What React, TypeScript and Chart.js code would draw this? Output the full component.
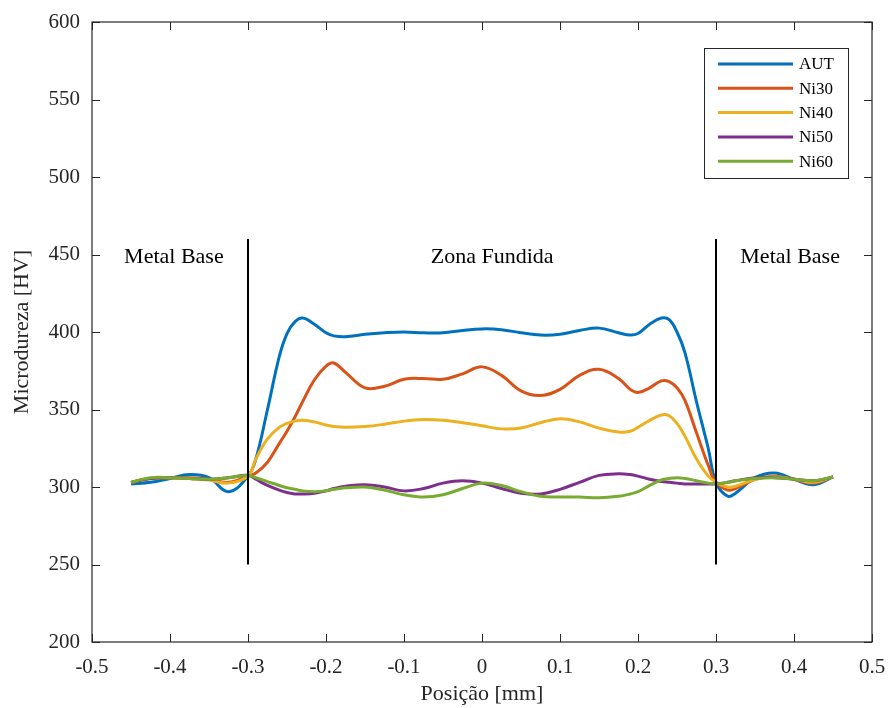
import React, { useEffect, useRef } from 'react';
import { Chart, registerables } from 'chart.js';

Chart.register(...registerables);

// Position along the weld (mm)
const POSITIONS = [
  -0.45, -0.425, -0.4, -0.375, -0.35, -0.325, -0.3, -0.29, -0.275, -0.26, -0.25, -0.24,
  -0.23, -0.215, -0.2, -0.19, -0.175, -0.15, -0.125, -0.1, -0.075, -0.05, -0.025, 0,
  0.025, 0.05, 0.075, 0.1, 0.125, 0.15, 0.175, 0.19, 0.2, 0.215, 0.23, 0.24,
  0.25, 0.26, 0.275, 0.29, 0.3, 0.315, 0.325, 0.35, 0.375, 0.4, 0.425, 0.45,
];

const AUT = [
  302, 303, 305.5, 308, 306, 297, 307, 318, 350, 384, 399, 406.5,
  409, 405, 399.5, 397.5, 397, 398.5, 399.5, 400, 399.5, 399.5, 401, 402,
  401.5, 399.5, 398, 398.5, 401, 402.5, 399.5, 398, 399, 405, 409, 408,
  400, 387, 355, 325, 303, 294, 296, 306, 309, 305, 301.5, 306.5,
];

const NI30 = [
  303, 305.5, 306, 306, 305, 303, 307, 309, 316, 328, 336, 345,
  355, 369, 378, 380, 374, 364, 365, 369.5, 370, 369.5, 373, 377.5,
  372, 362, 359, 363, 372, 376, 370, 363, 361, 364, 368.5, 368,
  364, 356, 335, 314, 303, 298, 299, 305, 307, 305, 302.5, 306.5,
];

const NI40 = [
  303, 305.5, 306, 305.5, 304.5, 302.5, 307, 318, 331, 338.5, 341, 342.5,
  343, 342, 340, 339, 338.5, 339, 340.5, 342.5, 343.5, 343, 341.5, 339.5,
  337.5, 338, 341.5, 344, 342, 338, 335.5, 336, 338.5, 343, 346.5, 346,
  341, 333, 318, 307, 303, 300, 300.5, 305, 306.5, 305, 303, 306.5,
];

const NI50 = [
  303, 305.5, 306, 305.5, 305, 306, 307.5, 305, 301, 298, 296.5, 295.5,
  295.5, 296, 297.5, 299, 300.5, 301.5, 300, 297.5, 299, 302.5, 304, 302.5,
  299, 296, 295.5, 298.5, 303, 307.5, 308.5, 308, 307, 305, 303.5, 303,
  302.5, 302, 302, 302, 302, 303, 304, 306, 306, 305, 304, 306.5,
];

const NI60 = [
  303, 306, 306, 305.5, 305, 306, 307.5, 306, 303.5, 301, 299.5, 298.5,
  297.5, 297, 297.5, 298.5, 299.5, 300, 298, 295, 293.5, 295, 299, 302.5,
  301, 297, 294, 293.5, 293.5, 293, 294, 295.5, 297, 301, 304.5, 305.5,
  306, 305.5, 304, 302.5, 302, 303, 304, 305.5, 306, 305, 304, 306.5,
];

const SERIES_NAMES = ['AUT', 'Ni30', 'Ni40', 'Ni50', 'Ni60'];
const SERIES_VALUES = [AUT, NI30, NI40, NI50, NI60];
const SERIES_COLORS = ['#0072BD', '#D95319', '#EDB120', '#7E2F8E', '#77AC30'];

// Zone boundaries (vertical black lines)
const BOUNDARY_X = [-0.3, 0.3];
const BOUNDARY_Y = [250, 460];

// Region labels
const REGION_LABELS = ['Metal Base', 'Zona Fundida', 'Metal Base'];
const REGION_X = [-0.395, 0.013, 0.395];
const REGION_Y = 448.5;

const X_MIN = -0.5;
const X_MAX = 0.5;
const Y_MIN = 200;
const Y_MAX = 600;

const FONT = '"Liberation Serif", "DejaVu Serif", serif';
const AXIS_COLOR = '#262626';

const framePlugin = {
  id: 'matlabFrame',
  afterDatasetsDraw(chart: any) {
    const { ctx, chartArea, scales } = chart;
    const { left, right, top, bottom } = chartArea;
    ctx.save();
    // region labels
    ctx.fillStyle = '#000';
    ctx.font = `22px ${FONT}`;
    ctx.textAlign = 'center';
    ctx.textBaseline = 'middle';
    REGION_LABELS.forEach((t, i) => {
      ctx.fillText(t, scales.x.getPixelForValue(REGION_X[i]), scales.y.getPixelForValue(REGION_Y));
    });
    // box
    ctx.strokeStyle = AXIS_COLOR;
    ctx.lineWidth = 1.2;
    ctx.strokeRect(left, top, right - left, bottom - top);
    // inward ticks
    const tl = 8;
    ctx.beginPath();
    scales.x.ticks.forEach((t: any) => {
      const px = Math.round(scales.x.getPixelForValue(t.value)) + 0.5;
      ctx.moveTo(px, bottom);
      ctx.lineTo(px, bottom - tl);
      ctx.moveTo(px, top);
      ctx.lineTo(px, top + tl);
    });
    scales.y.ticks.forEach((t: any) => {
      const py = Math.round(scales.y.getPixelForValue(t.value)) + 0.5;
      ctx.moveTo(left, py);
      ctx.lineTo(left + tl, py);
      ctx.moveTo(right, py);
      ctx.lineTo(right - tl, py);
    });
    ctx.lineWidth = 1;
    ctx.stroke();
    ctx.restore();
  },
  afterDraw(chart: any) {
    const { ctx, chartArea } = chart;
    const boxW = 144;
    const boxH = 130;
    const bx = chartArea.right - 24 - boxW;
    const by = chartArea.top + 26;
    ctx.save();
    ctx.fillStyle = '#fff';
    ctx.fillRect(bx, by, boxW, boxH);
    ctx.strokeStyle = AXIS_COLOR;
    ctx.lineWidth = 1;
    ctx.strokeRect(bx + 0.5, by + 0.5, boxW, boxH);
    ctx.font = `17px ${FONT}`;
    ctx.textAlign = 'left';
    ctx.textBaseline = 'middle';
    SERIES_NAMES.forEach((name, i) => {
      const y = by + 16 + i * 24.3;
      ctx.strokeStyle = SERIES_COLORS[i];
      ctx.lineWidth = 3;
      ctx.beginPath();
      ctx.moveTo(bx + 14, y);
      ctx.lineTo(bx + 89, y);
      ctx.stroke();
      ctx.fillStyle = '#000';
      ctx.fillText(name, bx + 95, y + 1);
    });
    ctx.restore();
  },
};

export default function App() {
  const canvasRef = useRef<HTMLCanvasElement | null>(null);

  useEffect(() => {
    const canvas = canvasRef.current;
    if (!canvas) return;

    const curveSets = SERIES_NAMES.map((name, i) => ({
      label: name,
      data: POSITIONS.map((x, j) => ({ x, y: SERIES_VALUES[i][j] })),
      borderColor: SERIES_COLORS[i],
      backgroundColor: SERIES_COLORS[i],
      borderWidth: 3,
      pointRadius: 0,
      tension: 0.4,
      fill: false,
      order: 10 - i,
    }));

    const boundarySets = BOUNDARY_X.map((bx) => ({
      label: '',
      data: BOUNDARY_Y.map((y) => ({ x: bx, y })),
      borderColor: '#000',
      backgroundColor: '#000',
      borderWidth: 2,
      pointRadius: 0,
      tension: 0,
      fill: false,
      order: 0,
    }));

    const chart = new Chart(canvas, {
      type: 'line',
      data: { datasets: [...curveSets, ...boundarySets] as any },
      plugins: [framePlugin],
      options: {
        animation: false,
        responsive: false,
        devicePixelRatio: 1,
        layout: { padding: { left: 0, right: 16, top: 22, bottom: 0 } },
        plugins: {
          legend: { display: false },
          tooltip: { enabled: false },
        },
        scales: {
          x: {
            type: 'linear',
            min: X_MIN,
            max: X_MAX,
            afterFit(scale: any) {
              scale.height = 66;
              scale.paddingLeft = 0;
              scale.paddingRight = 0;
            },
            ticks: {
              stepSize: 0.1,
              color: AXIS_COLOR,
              font: { family: FONT, size: 21 },
              padding: 13,
              maxRotation: 0,
              autoSkip: false,
              callback: (v: any) => String(Math.round(Number(v) * 10) / 10),
            },
            grid: { drawOnChartArea: false, drawTicks: false },
            border: { display: false },
            title: {
              display: true,
              text: 'Posição [mm]',
              color: AXIS_COLOR,
              font: { family: FONT, size: 22 },
              padding: { top: 0, bottom: 1 },
            },
          },
          y: {
            type: 'linear',
            min: Y_MIN,
            max: Y_MAX,
            afterFit(scale: any) {
              scale.width = 92;
              scale.paddingTop = 0;
              scale.paddingBottom = 0;
            },
            ticks: {
              stepSize: 50,
              color: AXIS_COLOR,
              font: { family: FONT, size: 21 },
              padding: 12,
            },
            grid: { drawOnChartArea: false, drawTicks: false },
            border: { display: false },
            title: {
              display: true,
              text: 'Microdureza [HV]',
              color: AXIS_COLOR,
              font: { family: FONT, size: 22 },
              padding: { top: 9, bottom: 0 },
            },
          },
        },
      },
    });

    return () => chart.destroy();
  }, []);

  return (
    <div style={{ position: 'absolute', left: 0, top: 0, width: 888, height: 708, background: '#fff' }}>
      <canvas ref={canvasRef} width={888} height={708} style={{ display: 'block', width: 888, height: 708 }} />
    </div>
  );
}
